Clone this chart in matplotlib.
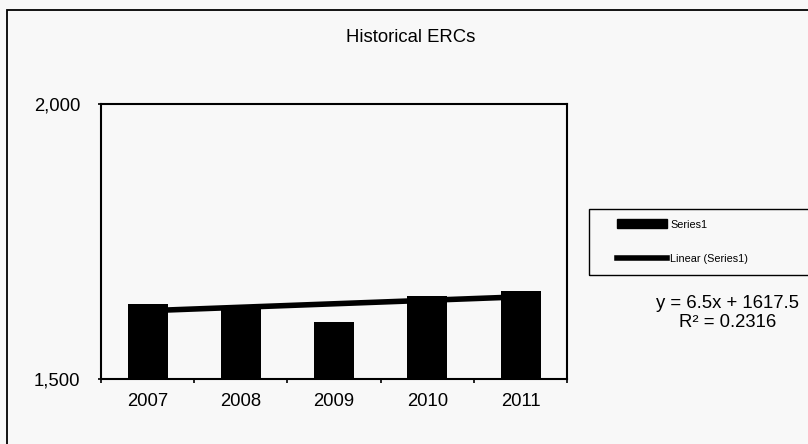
import numpy as np
import matplotlib.pyplot as plt
from matplotlib.patches import Rectangle, Patch
from matplotlib.lines import Line2D

plt.rcParams['font.family'] = ['Liberation Sans', 'DejaVu Sans']

# Données
years = ['2007', '2008', '2009', '2010', '2011']
ercs = [1637, 1634, 1605, 1651, 1660]
equation = 'y = 6.5x + 1617.5'
r2_text = 'R\u00b2 = 0.2316'

bg = '#f8f8f8'

fig = plt.figure(figsize=(8.08, 4.44), dpi=100, facecolor=bg)
ax = fig.add_axes([0.125, 0.1453, 0.577, 0.6205], facecolor=bg)

x = np.arange(1, len(years) + 1)
ax.bar(x, ercs, width=0.43, color='black', zorder=2)

# Courbe de tendance linéaire
coef = np.polyfit(x, ercs, 1)
ax.plot(x, np.polyval(coef, x), color='black', linewidth=4, zorder=3,
        solid_capstyle='butt')

ax.set_xlim(0.5, len(years) + 0.5)
ax.set_ylim(1500, 2000)
ax.set_yticks([1500, 2000])
ax.set_yticklabels(['1,500', '2,000'], fontsize=13.3)
ax.set_xticks(x)
ax.set_xticklabels(years, fontsize=13.3)
ax.set_xticks(np.arange(0.5, len(years) + 1), minor=True)
ax.tick_params(axis='x', which='major', length=0, pad=10)
ax.tick_params(axis='x', which='minor', length=3, width=1.2, direction='out')
ax.tick_params(axis='y', length=2.5, width=1.2, direction='out', pad=12.5)
for s in ax.spines.values():
    s.set_linewidth(1.5)
    s.set_color('black')

fig.text(0.508, 1 - 38 / 444, 'Historical ERCs', ha='center', va='center',
         fontsize=13.3)

# Cadre extérieur
fig.add_artist(Rectangle((7 / 808, -0.1), 1.2, 1.1 - 10 / 444,
                         transform=fig.transFigure, fill=False,
                         edgecolor='black', linewidth=1.3))

# Légende
fig.add_artist(Rectangle((589 / 808, 1 - 275 / 444), 1.0, 66 / 444,
                         transform=fig.transFigure, fill=False,
                         edgecolor='black', linewidth=1.0))
handles = [Patch(facecolor='black', edgecolor='black'),
           Line2D([], [], color='black', linewidth=4)]
fig.legend(handles, ['Series1', 'Linear (Series1)'], loc='upper left',
           bbox_to_anchor=(617 / 808, 1 - 219.5 / 444), frameon=False,
           fontsize=7.8, borderpad=0, borderaxespad=0, handlelength=4.6,
           handleheight=0.9, handletextpad=0.3, labelspacing=2.2)

fig.text(728 / 808, 1 - 303 / 444, equation, ha='center', va='center',
         fontsize=13.3)
fig.text(728 / 808, 1 - 322 / 444, r2_text, ha='center', va='center',
         fontsize=13.3)

fig.savefig('out.png', dpi=100, facecolor=bg)
